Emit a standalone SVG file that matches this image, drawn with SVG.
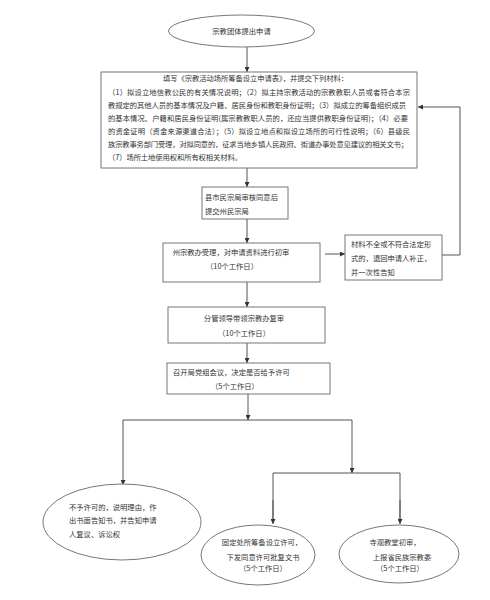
<svg xmlns="http://www.w3.org/2000/svg" width="490" height="600" viewBox="0 0 490 600">
<defs>
<style>
.n{fill:#fff;stroke:#777;stroke-width:1}
.c{fill:none;stroke:#555;stroke-width:1}
text{font-family:"Noto Sans CJK SC","Liberation Sans",sans-serif;fill:#333;font-size:7.3px}
.m{text-anchor:middle}
</style>
<marker id="a" viewBox="0 0 8 8" refX="8" refY="4" markerWidth="5" markerHeight="5" orient="auto" markerUnits="userSpaceOnUse">
<path d="M0,0 L8,4 L0,8 z" fill="#333"/>
</marker>
</defs>
<rect width="490" height="600" fill="#fff"/>
<g id="connectors">
<line class="c" x1="247" y1="47" x2="247" y2="72" marker-end="url(#a)"/>
<line class="c" x1="247" y1="168" x2="247" y2="187" marker-end="url(#a)"/>
<line class="c" x1="247" y1="219" x2="247" y2="243" marker-end="url(#a)"/>
<line class="c" x1="325" y1="254" x2="345" y2="254" marker-end="url(#a)"/>
<polyline class="c" points="442,255 460,255 460,107 418,107" marker-end="url(#a)"/>
<line class="c" x1="247" y1="282" x2="247" y2="307" marker-end="url(#a)"/>
<line class="c" x1="247" y1="343" x2="247" y2="363" marker-end="url(#a)"/>
<line class="c" x1="248" y1="394" x2="248" y2="420" marker-end="url(#a)"/>
<line class="c" x1="123" y1="420" x2="352" y2="420"/>
<line class="c" x1="123" y1="420" x2="123" y2="485" marker-end="url(#a)"/>
<line class="c" x1="352" y1="420" x2="352" y2="473" marker-end="url(#a)"/>
<polyline class="c" points="273,522 273,473 400,473 400,522"/>
<line class="c" x1="273" y1="500" x2="273" y2="524" marker-end="url(#a)"/>
<line class="c" x1="400" y1="500" x2="400" y2="524" marker-end="url(#a)"/>
</g>
<g id="start">
<ellipse class="n" cx="241.5" cy="31" rx="73" ry="16"/>
<text class="m" x="241.5" y="33.5" font-size="8">宗教团体提出申请</text>
</g>
<g id="materials">
<rect class="n" x="101" y="72" width="316" height="96"/>
<text x="163" y="81" textLength="185" lengthAdjust="spacing">填写《宗教活动场所筹备设立申请表》，并提交下列材料：</text>
<text x="108" y="95" textLength="302" lengthAdjust="spacing">（1）拟设立地信教公民的有关情况说明；（2）拟主持宗教活动的宗教教职人员或者符合本宗</text>
<text x="108" y="108" textLength="298" lengthAdjust="spacing">教规定的其他人员的基本情况及户籍、居民身份和教职身份证明；（3）拟成立的筹备组织成员</text>
<text x="108" y="121" textLength="300" lengthAdjust="spacing">的基本情况、户籍和居民身份证明(属宗教教职人员的，还应当提供教职身份证明)；（4）必要</text>
<text x="108" y="134" textLength="302" lengthAdjust="spacing">的资金证明（资金来源渠道合法）；（5）拟设立地点和拟设立场所的可行性说明；（6）县级民</text>
<text x="108" y="147" textLength="300" lengthAdjust="spacing">族宗教事务部门受理，对拟同意的，征求当地乡镇人民政府、街道办事处意见建议的相关文书；</text>
<text x="108" y="160" textLength="134" lengthAdjust="spacing">（7）场所土地使用权和所有权相关材料。</text>
</g>
<g id="county">
<rect class="n" x="202" y="187" width="86" height="32"/>
<text x="205" y="200">县市民宗局审核同意后</text>
<text x="205" y="214">提交州民宗局</text>
</g>
<g id="prefecture">
<rect class="n" x="163" y="243" width="157" height="39"/>
<text class="m" x="231" y="255">州宗教办受理，对申请资料进行初审</text>
<text class="m" x="232" y="269">（10个工作日）</text>
</g>
<g id="reject-materials">
<rect class="n" x="345" y="235" width="97" height="45"/>
<text x="351" y="247">材料不全或不符合法定形</text>
<text x="351" y="261">式的，退回申请人补正，</text>
<text x="351" y="275">并一次性告知</text>
</g>
<g id="review">
<rect class="n" x="168" y="307" width="157" height="36"/>
<text class="m" x="244" y="321">分管领导带领宗教办复审</text>
<text class="m" x="244" y="336">（10个工作日）</text>
</g>
<g id="meeting">
<rect class="n" x="167" y="363" width="163" height="31"/>
<text x="173" y="375">召开局党组会议，决定是否给予许可</text>
<text class="m" x="235" y="389">（5个工作日）</text>
</g>
<g id="deny">
<ellipse class="n" cx="122" cy="522" rx="79" ry="38"/>
<text x="69" y="510">不予许可的，说明理由，作</text>
<text x="69" y="523">出书面告知书，并告知申请</text>
<text x="69" y="537">人复议、诉讼权</text>
</g>
<g id="fixed-site">
<ellipse class="n" cx="258" cy="555" rx="57" ry="30"/>
<text class="m" x="262" y="545">固定处所筹备设立许可，</text>
<text class="m" x="263" y="560">下发同意许可批复文书</text>
<text class="m" x="263" y="571">（5个工作日）</text>
</g>
<g id="temple">
<ellipse class="n" cx="399" cy="554" rx="60" ry="29"/>
<text class="m" x="395" y="545">寺观教堂初审，</text>
<text class="m" x="402" y="560">上报省民族宗教委</text>
<text class="m" x="400" y="571">（5个工作日）</text>
</g>
</svg>
